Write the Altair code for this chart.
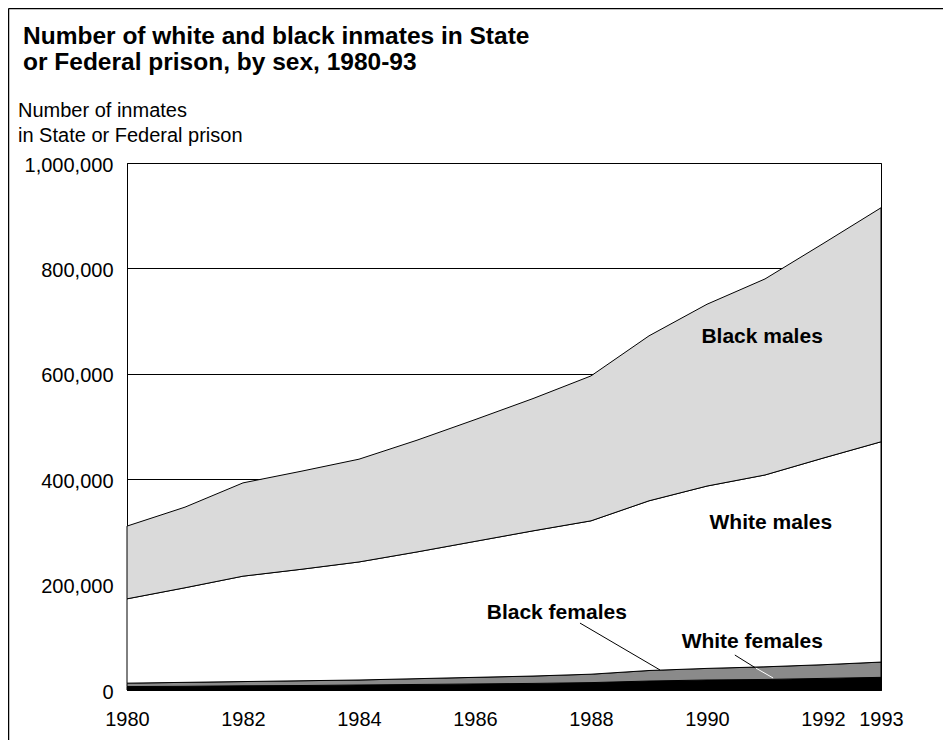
import altair as alt
import pandas as pd

# ---- data ----
years = list(range(1980, 1994))
white_females = [6500, 7000, 8000, 8500, 9500, 10500, 11500, 12500, 14000, 17000, 19000, 20000, 22000, 24000]
black_females = [6500, 7500, 8000, 9000, 9500, 11000, 12500, 14000, 16000, 20000, 22000, 24000, 26000, 29000]
white_males = [160000, 179500, 200000, 211500, 224000, 240500, 258000, 275500, 291000, 322000, 346000, 364000, 392000, 418000]
black_males = [138000, 153000, 177000, 186000, 195000, 212000, 231000, 251000, 275000, 313000, 345000, 372000, 407000, 444000]

series_names = ["White females", "Black females", "White males", "Black males"]
series_values = [white_females, black_females, white_males, black_males]
series_fill = ["#000000", "#8a8a8a", "#ffffff", "#dadada"]

x_ticks = [1980, 1982, 1984, 1986, 1988, 1990, 1992, 1993]
y_ticks = [0, 200000, 400000, 600000, 800000, 1000000]

# annotation labels (data coordinates)
label_text = ["Black males", "White males", "Black females", "White females"]
label_year = [1990.95, 1991.10, 1987.41, 1990.78]
label_value = [669000, 317000, 146000, 91000]

# leader lines (data coordinates)
leader_x = [1987.81, 1990.48, 1990.84]
leader_y = [127000, 66400, 41700]
leader_x2 = [1989.19, 1990.84, 1991.14]
leader_y2 = [38000, 41700, 22800]
leader_color = ["#000000", "#000000", "#ffffff"]

FONT = "Liberation Sans, Arial, Helvetica, sans-serif"
W, H = 754, 527

rows = []
for i, (name, vals) in enumerate(zip(series_names, series_values)):
    for yr, v in zip(years, vals):
        rows.append({"year": yr, "value": v, "series": name, "order": i})
df = pd.DataFrame(rows)

xscale = alt.Scale(domain=[1980, 1993], nice=False, zero=False)
yscale = alt.Scale(domain=[0, 1000000], nice=False)

xaxis = alt.Axis(values=x_ticks, format="d", title=None, grid=False,
                 ticks=False, tickSize=0, labelPadding=19, labelFontSize=20,
                 labelFont=FONT, labelColor="black", domainColor="black",
                 labelBaseline="top", labelFlush=False, labelOverlap=False)
yaxis = alt.Axis(values=y_ticks, format=",d", title=None, grid=True,
                 gridColor="black", gridWidth=1, gridOpacity=1,
                 ticks=False, tickSize=0, labelPadding=14, labelFontSize=20,
                 labelFont=FONT, labelColor="black", domainColor="black",
                 labelOffset=2)

areas = alt.Chart(df).mark_area(stroke="black", strokeWidth=1, opacity=1).encode(
    x=alt.X("year:Q", scale=xscale, axis=xaxis),
    y=alt.Y("value:Q", stack="zero", scale=yscale, axis=yaxis),
    color=alt.Color("series:N", scale=alt.Scale(domain=series_names, range=series_fill), legend=None),
    order=alt.Order("order:Q", sort="ascending"),
)

ldf = pd.DataFrame({"x": leader_x, "y": leader_y, "x2": leader_x2, "y2": leader_y2, "c": leader_color})
leaders = alt.Chart(ldf).mark_rule(strokeWidth=1).encode(
    x=alt.X("x:Q", scale=xscale, axis=xaxis),
    y=alt.Y("y:Q", scale=yscale, axis=yaxis),
    x2="x2:Q", y2="y2:Q",
    color=alt.Color("c:N", scale=None),
)

tdf = pd.DataFrame({"t": label_text, "x": label_year, "y": label_value})
labels = alt.Chart(tdf).mark_text(font=FONT, fontSize=21, fontWeight="bold", color="black",
                                  align="center", baseline="middle").encode(
    x=alt.X("x:Q", scale=xscale, axis=xaxis),
    y=alt.Y("y:Q", scale=yscale, axis=yaxis),
    text="t:N",
)

one = pd.DataFrame({"k": [0]})
title = alt.Chart(one).mark_text(font=FONT, fontSize=24.5, fontWeight="bold", color="black",
                                 align="left", baseline="alphabetic", lineHeight=26).encode(
    x=alt.value(-104), y=alt.value(-119),
    text=alt.value(["Number of white and black inmates in State", "or Federal prison, by sex, 1980-93"]),
)
subtitle = alt.Chart(one).mark_text(font=FONT, fontSize=20, color="black",
                                    align="left", baseline="alphabetic", lineHeight=25).encode(
    x=alt.value(-109), y=alt.value(-46),
    text=alt.value(["Number of inmates", "in State or Federal prison"]),
)
frame_v = alt.Chart(one).mark_rule(color="black", strokeWidth=1.5).encode(
    x=alt.value(-118.5), y=alt.value(-154.5), y2=alt.value(H + 60))
frame_h = alt.Chart(one).mark_rule(color="black", strokeWidth=1.5).encode(
    x=alt.value(-118.5), x2=alt.value(W + 70), y=alt.value(-154.5))

chart = alt.layer(areas, leaders, labels, title, subtitle, frame_v, frame_h).properties(
    width=W, height=H,
    autosize=alt.AutoSizeParams(type="none"),
    padding={"left": 119, "top": 155, "right": 62, "bottom": 50},
).configure(background="white").configure_view(stroke="black", strokeWidth=1)

chart.save("out.html", embed_options={"renderer": "svg", "actions": False})
